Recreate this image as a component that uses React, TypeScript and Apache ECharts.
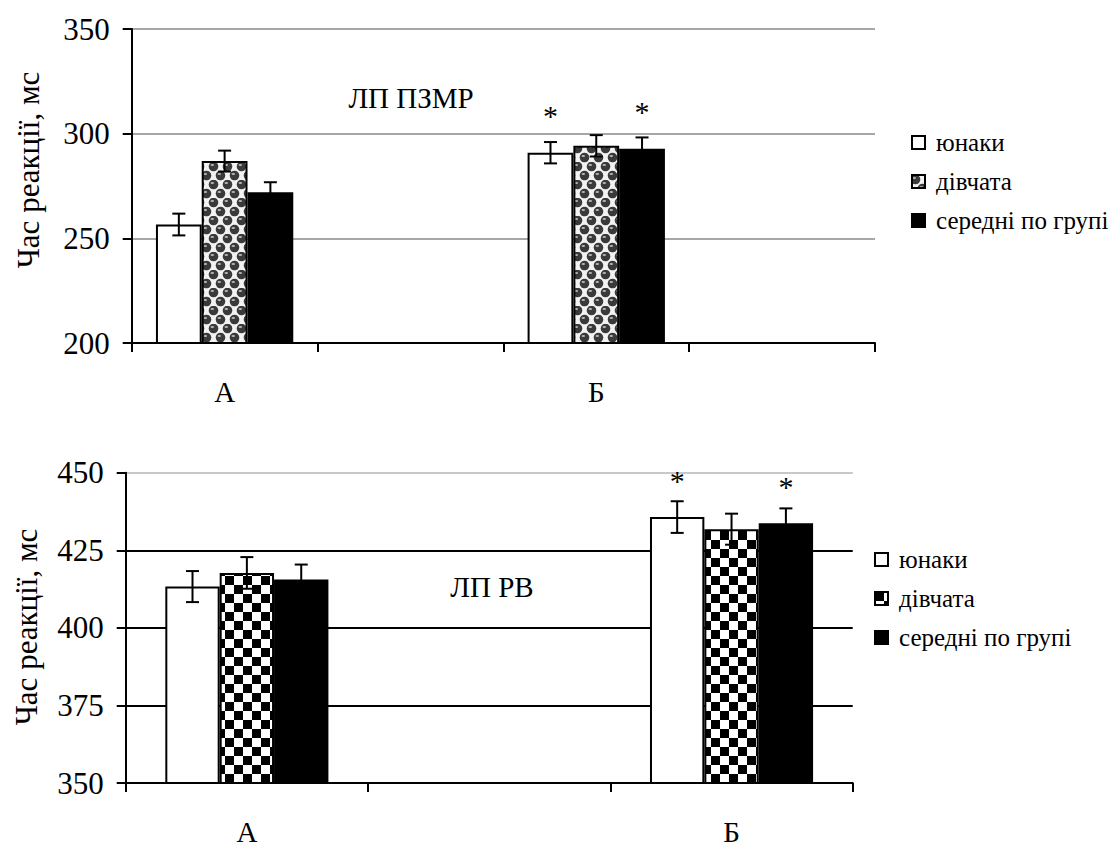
import React, { useEffect, useRef } from 'react';
import * as echarts from 'echarts';

const FONT = 'Times New Roman, Liberation Serif, serif';

const seriesNames = ['юнаки', 'дівчата', 'середні по групі'];

// Top chart: ЛП ПЗМР
const topCategories = ['А', '', 'Б', ''];
const topYoung = [256.6, null, 290.9, null];
const topGirls = [286.9, null, 294.2, null];
const topMean = [272.0, null, 292.8, null];
const topYoungErr = [5.2, null, 5.1, null];
const topGirlsErr = [5.0, null, 5.1, null];
const topMeanErr = [4.8, null, 5.4, null];
const topYoungStar = [0, 0, 1, 0];
const topGirlsStar = [0, 0, 0, 0];
const topMeanStar = [0, 0, 1, 0];
const topYTicks = { min: 200, max: 350, interval: 50 };
const topTitle = 'ЛП ПЗМР';

// Bottom chart: ЛП РВ
const botCategories = ['А', '', 'Б'];
const botYoung = [413.3, null, 435.7];
const botGirls = [417.7, null, 431.8];
const botMean = [415.6, null, 433.7];
const botYoungErr = [5.0, null, 5.1];
const botGirlsErr = [5.1, null, 5.0];
const botMeanErr = [4.8, null, 4.8];
const botYoungStar = [0, 0, 1];
const botGirlsStar = [0, 0, 0];
const botMeanStar = [0, 0, 1];
const botYTicks = { min: 350, max: 450, interval: 25 };
const botTitle = 'ЛП РВ';

const yName = 'Час реакції, мс';

function makeBallsPattern(): HTMLCanvasElement {
  const c = document.createElement('canvas');
  c.width = 14;
  c.height = 18;
  const g = c.getContext('2d')!;
  g.fillStyle = '#f2f2f2';
  g.fillRect(0, 0, 14, 18);
  const balls = [
    [3.5, 4.5], [17.5, 4.5], [-10.5, 4.5],
    [10.5, 13.5], [-3.5, 13.5], [10.5, -4.5], [-3.5, -4.5], [10.5, 22.5], [-3.5, 22.5],
  ];
  for (const [x, y] of balls) {
    g.fillStyle = '#3a3a3a';
    g.beginPath();
    g.arc(x, y, 4.8, 0, Math.PI * 2);
    g.fill();
    g.fillStyle = '#b8b8b8';
    g.beginPath();
    g.ellipse(x - 1.2, y - 1.6, 1.8, 1.0, 0, 0, Math.PI * 2);
    g.fill();
  }
  return c;
}

function makeCheckerPattern(): HTMLCanvasElement {
  const c = document.createElement('canvas');
  const s = 9;
  c.width = s * 2;
  c.height = s * 2;
  const g = c.getContext('2d')!;
  g.fillStyle = '#ffffff';
  g.fillRect(0, 0, s * 2, s * 2);
  g.fillStyle = '#000000';
  g.fillRect(0, 0, s, s);
  g.fillRect(s, s, s, s);
  return c;
}

type ChartCfg = {
  categories: string[];
  values: (number | null)[][];
  errs: (number | null)[][];
  stars: number[][];
  yTicks: { min: number; max: number; interval: number };
  gap: number;
  grid: { left: number; right: number; top: number; bottom: number };
  splitColors: string[];
  splitWidth: number;
  pattern: HTMLCanvasElement;
  title: string;
  titlePos: [number, number];
  yNamePos: [number, number];
  legendPos: [number, number];
};

function buildOption(cfg: ChartCfg): any {
  const fills: any[] = [
    '#ffffff',
    { image: cfg.pattern, repeat: 'repeat' },
    '#000000',
  ];
  const barSeries = seriesNames.map((name, s) => ({
    name,
    type: 'bar',
    barGap: '0%',
    barCategoryGap: `${cfg.gap * 100}%`,
    itemStyle: { color: fills[s], borderColor: '#000', borderWidth: 2 },
    data: cfg.values[s].map((v) => (v == null ? '-' : v)),
    z: 2,
  }));
  const errData: any[] = [];
  cfg.values.forEach((vals, s) => {
    vals.forEach((v, c) => {
      const e = cfg.errs[s][c];
      if (v != null && e != null) errData.push([c, v, e, s, cfg.stars[s][c]]);
    });
  });
  const gap = cfg.gap;
  const errSeries = {
    type: 'custom',
    silent: true,
    z: 5,
    encode: { x: 0, y: 1 },
    data: errData,
    renderItem: (params: any, api: any) => {
      const c = api.value(0);
      const m = api.value(1);
      const e = api.value(2);
      const s = api.value(3);
      const star = api.value(4);
      const bandW = api.size([1, 0])[0];
      const barW = (bandW * (1 - gap)) / 3;
      const base = api.coord([c, m]);
      const x = base[0] + (s - 1) * barW;
      const yT = api.coord([c, m + e])[1];
      const yB = api.coord([c, m - e])[1];
      const cap = 6.5;
      const st = { stroke: '#000', lineWidth: 2 };
      const children: any[] = [
        { type: 'line', shape: { x1: x, y1: yT, x2: x, y2: yB }, style: st },
        { type: 'line', shape: { x1: x - cap, y1: yT, x2: x + cap, y2: yT }, style: st },
        { type: 'line', shape: { x1: x - cap, y1: yB, x2: x + cap, y2: yB }, style: st },
      ];
      if (star) {
        children.push({
          type: 'text',
          x,
          y: base[1] - 37,
          style: {
            text: '*',
            fontSize: 30,
            fontFamily: FONT,
            fill: '#000',
            align: 'center',
            verticalAlign: 'middle',
          },
        });
      }
      return { type: 'group', children };
    },
  };

  return {
    animation: false,
    backgroundColor: '#ffffff',
    textStyle: { fontFamily: FONT },
    grid: { ...cfg.grid, containLabel: false },
    legend: {
      orient: 'vertical',
      left: cfg.legendPos[0],
      top: cfg.legendPos[1],
      itemWidth: 13,
      itemHeight: 13,
      itemGap: 14,
      icon: 'rect',
      data: seriesNames,
      textStyle: {
        fontFamily: FONT,
        fontSize: 25,
        color: '#000',
        padding: [0, 0, 0, 6],
      },
      selectedMode: false,
    },
    xAxis: {
      type: 'category',
      data: cfg.categories,
      axisLine: { show: true, lineStyle: { color: '#000', width: 2 } },
      axisTick: { show: true, length: 9, lineStyle: { color: '#000', width: 2 } },
      axisLabel: { margin: 34, fontFamily: FONT, fontSize: 29, color: '#000' },
      splitLine: { show: false },
    },
    yAxis: {
      type: 'value',
      min: cfg.yTicks.min,
      max: cfg.yTicks.max,
      interval: cfg.yTicks.interval,
      axisLine: { show: true, lineStyle: { color: '#000', width: 2 } },
      axisTick: { show: true, length: 9, lineStyle: { color: '#000', width: 2 } },
      axisLabel: { margin: 22, fontFamily: FONT, fontSize: 31, color: '#000' },
      splitLine: { show: true, lineStyle: { color: cfg.splitColors, width: cfg.splitWidth } },
    },
    graphic: [
      {
        type: 'text',
        x: cfg.titlePos[0],
        y: cfg.titlePos[1],
        style: {
          text: cfg.title,
          fontFamily: FONT,
          fontSize: 29,
          fill: '#000',
          align: 'center',
          verticalAlign: 'middle',
        },
      },
      {
        type: 'text',
        x: cfg.yNamePos[0],
        y: cfg.yNamePos[1],
        rotation: Math.PI / 2,
        style: {
          text: yName,
          fontFamily: FONT,
          fontSize: 31,
          fill: '#000',
          align: 'center',
          verticalAlign: 'middle',
        },
      },
    ],
    series: [...barSeries, errSeries],
  };
}

function Chart({ makeOption, style }: { makeOption: () => any; style: React.CSSProperties }) {
  const ref = useRef<HTMLDivElement>(null);
  useEffect(() => {
    if (!ref.current) return;
    const chart = echarts.init(ref.current, null, { renderer: 'svg' });
    chart.setOption(makeOption());
    return () => chart.dispose();
  }, []);
  return <div ref={ref} style={style} />;
}

export default function App() {
  const topOption = () =>
    buildOption({
      categories: topCategories,
      values: [topYoung, topGirls, topMean],
      errs: [topYoungErr, topGirlsErr, topMeanErr],
      stars: [topYoungStar, topGirlsStar, topMeanStar],
      yTicks: topYTicks,
      gap: 0.261,
      grid: { left: 131.7, right: 235, top: 29, bottom: 80 },
      splitColors: ['#888888'],
      splitWidth: 1.5,
      pattern: makeBallsPattern(),
      title: topTitle,
      titlePos: [411, 98],
      yNamePos: [28, 170],
      legendPos: [906, 125],
    });
  const botOption = () =>
    buildOption({
      categories: botCategories,
      values: [botYoung, botGirls, botMean],
      errs: [botYoungErr, botGirlsErr, botMeanErr],
      stars: [botYoungStar, botGirlsStar, botMeanStar],
      yTicks: botYTicks,
      gap: 0.327,
      grid: { left: 125.7, right: 257.3, top: 49.7, bottom: 58.7 },
      splitColors: ['#000000', '#000000', '#000000', '#000000', '#c8c8c8'],
      splitWidth: 2,
      pattern: makeCheckerPattern(),
      title: botTitle,
      titlePos: [492, 164],
      yNamePos: [26, 204],
      legendPos: [869, 119],
    });
  return (
    <div style={{ position: 'absolute', left: 0, top: 0, width: 1110, height: 846, background: '#fff' }}>
      <Chart makeOption={topOption} style={{ position: 'absolute', left: 0, top: 0, width: 1110, height: 423 }} />
      <Chart makeOption={botOption} style={{ position: 'absolute', left: 0, top: 423, width: 1110, height: 423 }} />
    </div>
  );
}
